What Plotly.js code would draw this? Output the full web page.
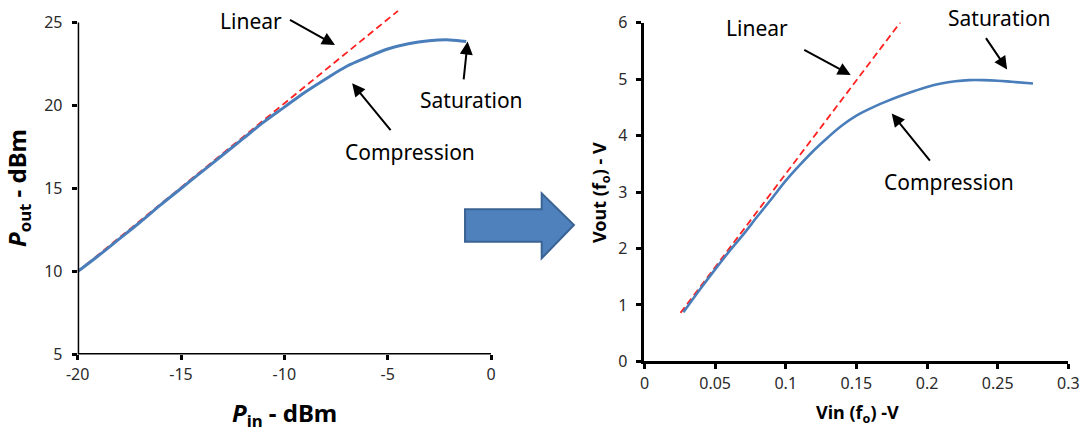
<!DOCTYPE html>
<html>
<head>
<meta charset="utf-8">
<script src="https://cdn.plot.ly/plotly-3.0.1.min.js"></script>
<style>html,body{margin:0;padding:0;background:#fff;}#chart{width:1086px;height:432px;}</style>
</head>
<body>
<div id="chart"></div>
<script>
// ---- Left chart: Pout vs Pin (dBm)
const pinDbm  = [-20, -19, -18, -17, -16, -15, -14, -13, -12, -11, -10, -9, -8, -7, -6, -5, -4, -3, -2, -1.2];
const poutDbm = [10, 10.95, 11.95, 12.95, 14.0, 15.0, 16.0, 17.0, 18.0, 19.0, 19.9, 20.8, 21.6, 22.35, 22.9, 23.4, 23.72, 23.9, 23.95, 23.85];
const linearPin  = [-20, -4.5];
const linearPout = [10, 25.7];
const leftXTicks = [-20, -15, -10, -5, 0];
const leftXTickText = ["-20", "-15", "-10", "-5", "0"];
const leftYTicks = [5, 10, 15, 20, 25];

// ---- Right chart: Vout vs Vin (V)
const vin  = [0.0275, 0.04, 0.05, 0.06, 0.07, 0.08, 0.09, 0.10, 0.11, 0.12, 0.13, 0.14, 0.15, 0.16, 0.17, 0.18, 0.19, 0.20, 0.21, 0.22, 0.23, 0.24, 0.25, 0.26, 0.275];
const vout = [0.87, 1.30, 1.63, 1.95, 2.25, 2.57, 2.88, 3.20, 3.48, 3.74, 3.97, 4.18, 4.35, 4.48, 4.59, 4.69, 4.78, 4.86, 4.92, 4.96, 4.98, 4.98, 4.97, 4.95, 4.92];
const linearVin  = [0.0255, 0.181];
const linearVout = [0.86, 6.0];
const rightXTicks = [0, 0.05, 0.1, 0.15, 0.2, 0.25, 0.3];
const rightXTickText = ["0", "0.05", "0.1", "0.15", "0.2", "0.25", "0.3"];
const rightYTicks = [0, 1, 2, 3, 4, 5, 6];

const blue = '#4A7EBB';
const red = '#FF2020';
const tickFont = {family: 'Noto Sans, sans-serif', size: 16, color: '#2a2a2a'};
const annFont = {family: 'Noto Sans, sans-serif', size: 21, color: '#000'};

const traces = [
  {x: linearPin, y: linearPout, xaxis: 'x', yaxis: 'y', mode: 'lines',
   line: {color: red, width: 1.8, dash: '7px,4px'}, hoverinfo: 'skip'},
  {x: pinDbm, y: poutDbm, xaxis: 'x', yaxis: 'y', mode: 'lines',
   line: {color: blue, width: 3, shape: 'spline'}},
  {x: linearVin, y: linearVout, xaxis: 'x2', yaxis: 'y2', mode: 'lines',
   line: {color: red, width: 1.8, dash: '7px,4px'}, hoverinfo: 'skip'},
  {x: vin, y: vout, xaxis: 'x2', yaxis: 'y2', mode: 'lines',
   line: {color: blue, width: 2.6, shape: 'spline'}}
];

const axBase = {showgrid: false, zeroline: false, ticks: 'outside', ticklen: 5, tickwidth: 3,
  tickcolor: '#000', tickfont: tickFont, fixedrange: true};

function arrow(xr, yr, x, y, ax, ay) {
  return {xref: xr, yref: yr, axref: xr, ayref: yr, x: x, y: y, ax: ax, ay: ay, text: '',
    showarrow: true, arrowhead: 2, arrowsize: 1.3, arrowwidth: 2, arrowcolor: '#000', standoff: 0};
}
function label(xr, yr, x, y, t) {
  return {xref: xr, yref: yr, x: x, y: y, text: t, showarrow: false, font: annFont,
    xanchor: 'center', yanchor: 'middle'};
}

const layout = {
  width: 1086, height: 432,
  margin: {l: 0, r: 0, t: 0, b: 0},
  paper_bgcolor: '#fff', plot_bgcolor: 'rgba(0,0,0,0)',
  showlegend: false,
  xaxis: Object.assign({}, axBase, {domain: [0.07155, 0.45212], range: [-20, 0],
    tickvals: leftXTicks, ticktext: leftXTickText, showline: false, anchor: 'y'}),
  yaxis: Object.assign({}, axBase, {domain: [0.1794, 0.9787], range: [5, 25.8],
    tickvals: leftYTicks, showline: false, anchor: 'x', ticklabelstandoff: 6}),
  xaxis2: Object.assign({}, axBase, {domain: [0.59346, 0.98370], range: [0, 0.3],
    tickvals: rightXTicks, ticktext: rightXTickText, showline: true, linewidth: 3, linecolor: '#000', anchor: 'y2'}),
  yaxis2: Object.assign({}, axBase, {domain: [0.1632, 0.9479], range: [0, 6],
    tickvals: rightYTicks, showline: true, linewidth: 3, linecolor: '#000', anchor: 'x2', ticklabelstandoff: 6}),
  shapes: [
    {type: 'line', xref: 'x', yref: 'y', x0: leftXTicks[0], x1: leftXTicks[0], y0: leftYTicks[0], y1: leftYTicks[leftYTicks.length-1],
     line: {color: '#000', width: 3}},
    {type: 'line', xref: 'x', yref: 'y', x0: leftXTicks[0], x1: leftXTicks[leftXTicks.length-1], y0: leftYTicks[0], y1: leftYTicks[0],
     line: {color: '#000', width: 3}},
    {type: 'path', xref: 'paper', yref: 'paper',
     path: 'M 0.4282 0.5155 L 0.4988 0.5155 L 0.4988 0.5525 L 0.5285 0.4792 L 0.4988 0.4021 L 0.4988 0.4405 L 0.4282 0.4405 Z',
     fillcolor: '#4F81BD', line: {color: '#3A6393', width: 2}}
  ],
  annotations: [
    label('x', 'y', -11.6, 25.06, 'Linear'),
    arrow('x', 'y', -7.55, 23.65, -9.8, 25.2),
    label('x', 'y', -3.93, 17.21, 'Compression'),
    arrow('x', 'y', -6.72, 21.34, -4.8, 18.42),
    label('x', 'y', -0.93, 20.33, 'Saturation'),
    arrow('x', 'y', -1.13, 23.85, -1.33, 21.48),

    label('x2', 'y2', 0.0798, 5.9, 'Linear'),
    arrow('x2', 'y2', 0.146, 5.07, 0.112, 5.53),
    label('x2', 'y2', 0.2155, 3.18, 'Compression'),
    arrow('x2', 'y2', 0.175, 4.39, 0.2029, 3.53),
    label('paper', 'paper', 999/1086, 1 - 18/432, 'Saturation'),
    arrow('x2', 'y2', 0.2567, 5.17, 0.241, 5.75),

    {xref: 'paper', yref: 'paper', x: 18/1086, y: 1 - 188/432, textangle: -90,
     text: '<b><i>P</i><sub>out</sub> - dBm</b>', showarrow: false,
     font: {family: 'Noto Sans, sans-serif', size: 24, color: '#000'}, xanchor: 'center', yanchor: 'middle'},
    {xref: 'paper', yref: 'paper', x: 284/1086, y: 1 - 414/432,
     text: '<b><i>P</i><sub>in</sub> - dBm</b>', showarrow: false,
     font: {family: 'Noto Sans, sans-serif', size: 24, color: '#000'}, xanchor: 'center', yanchor: 'middle'},
    {xref: 'paper', yref: 'paper', x: 600/1086, y: 1 - 193/432, textangle: -90,
     text: '<b>Vout (f<sub>o</sub>) - V</b>', showarrow: false,
     font: {family: 'Noto Sans, sans-serif', size: 18, color: '#000'}, xanchor: 'center', yanchor: 'middle'},
    {xref: 'paper', yref: 'paper', x: 857/1086, y: 1 - 413/432,
     text: '<b>Vin (f<sub>o</sub>) -V</b>', showarrow: false,
     font: {family: 'Noto Sans, sans-serif', size: 18, color: '#000'}, xanchor: 'center', yanchor: 'middle'}
  ]
};

Plotly.newPlot('chart', traces, layout, {staticPlot: true, displayModeBar: false});
</script>
</body>
</html>
